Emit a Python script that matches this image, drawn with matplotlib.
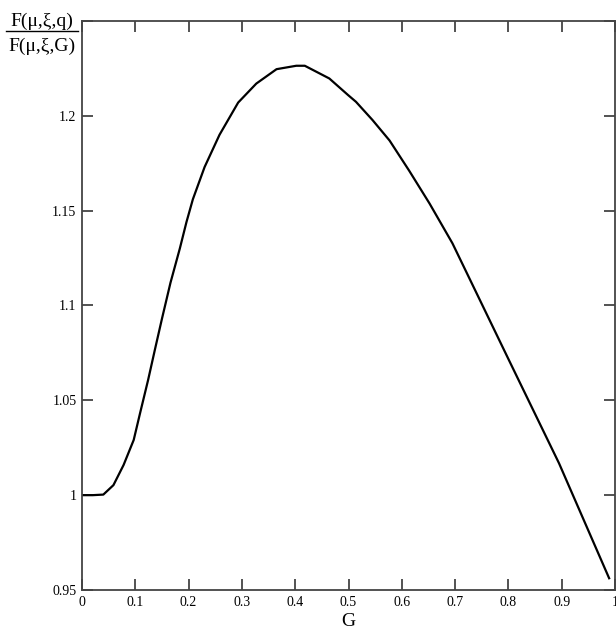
import matplotlib
matplotlib.use('Agg')
from matplotlib import pyplot as plt
from matplotlib.lines import Line2D

# Values
g_values = [0.0, 0.02, 0.04, 0.059, 0.078, 0.097, 0.109, 0.124, 0.137, 0.15, 0.166, 0.1835,
            0.196, 0.208, 0.230, 0.258, 0.293, 0.327, 0.365, 0.402, 0.418, 0.464, 0.499,
            0.514, 0.545, 0.577, 0.614, 0.652, 0.695, 0.742, 0.801, 0.895, 0.989]
f_ratio = [1.0, 1.0, 1.0003, 1.0053, 1.0159, 1.0291, 1.0433, 1.0607, 1.077, 1.093, 1.112, 1.130,
           1.144, 1.156, 1.173, 1.190, 1.207, 1.217, 1.2246, 1.2264, 1.2264, 1.2197, 1.211,
           1.2074, 1.1978, 1.187, 1.171, 1.1538, 1.1328, 1.1055, 1.0712, 1.0168, 0.9562]

x_ticks = [0, 0.1, 0.2, 0.3, 0.4, 0.5, 0.6, 0.7, 0.8, 0.9, 1.0]
x_labels = ['0', '0.1', '0.2', '0.3', '0.4', '0.5', '0.6', '0.7', '0.8', '0.9', '1']
y_ticks = [0.95, 1.0, 1.05, 1.1, 1.15, 1.2, 1.25]
y_labels = ['0.95', '1', '1.05', '1.1', '1.15', '1.2', '']

plt.rcParams['font.family'] = ['Liberation Serif', 'DejaVu Serif']

fig = plt.figure(figsize=(6.16, 6.31), dpi=100)
ax = fig.add_axes([82 / 616, 1 - 590 / 631, 533 / 616, 569 / 631])

ax.plot(g_values, f_ratio, color='black', linewidth=1.6)

ax.set_xlim(0, 1.0)
ax.set_ylim(0.95, 1.25)
ax.set_xticks(x_ticks)
ax.set_xticklabels(x_labels, fontsize=10)
ax.set_yticks(y_ticks)
ax.set_yticklabels(y_labels, fontsize=10)
ax.tick_params(direction='in', top=True, right=True, length=8, width=1.3,
               color='#444444', pad=4)

for side in ['left', 'right', 'top', 'bottom']:
    ax.spines[side].set_color('#444444')
    ax.spines[side].set_linewidth(1.3)

ax.set_xlabel('G', fontsize=14, labelpad=3)

# fraction-style y label in the top-left corner
fig.text(42 / 616, 1 - 21 / 631, 'F(\u03bc,\u03be,q)', ha='center', va='center', fontsize=14)
fig.text(42 / 616, 1 - 46 / 631, 'F(\u03bc,\u03be,G)', ha='center', va='center', fontsize=14)
fig.add_artist(Line2D([6 / 616, 78 / 616], [1 - 30.5 / 631, 1 - 30.5 / 631],
                      color='black', linewidth=1.0, transform=fig.transFigure))

fig.savefig('out.png', dpi=100)
